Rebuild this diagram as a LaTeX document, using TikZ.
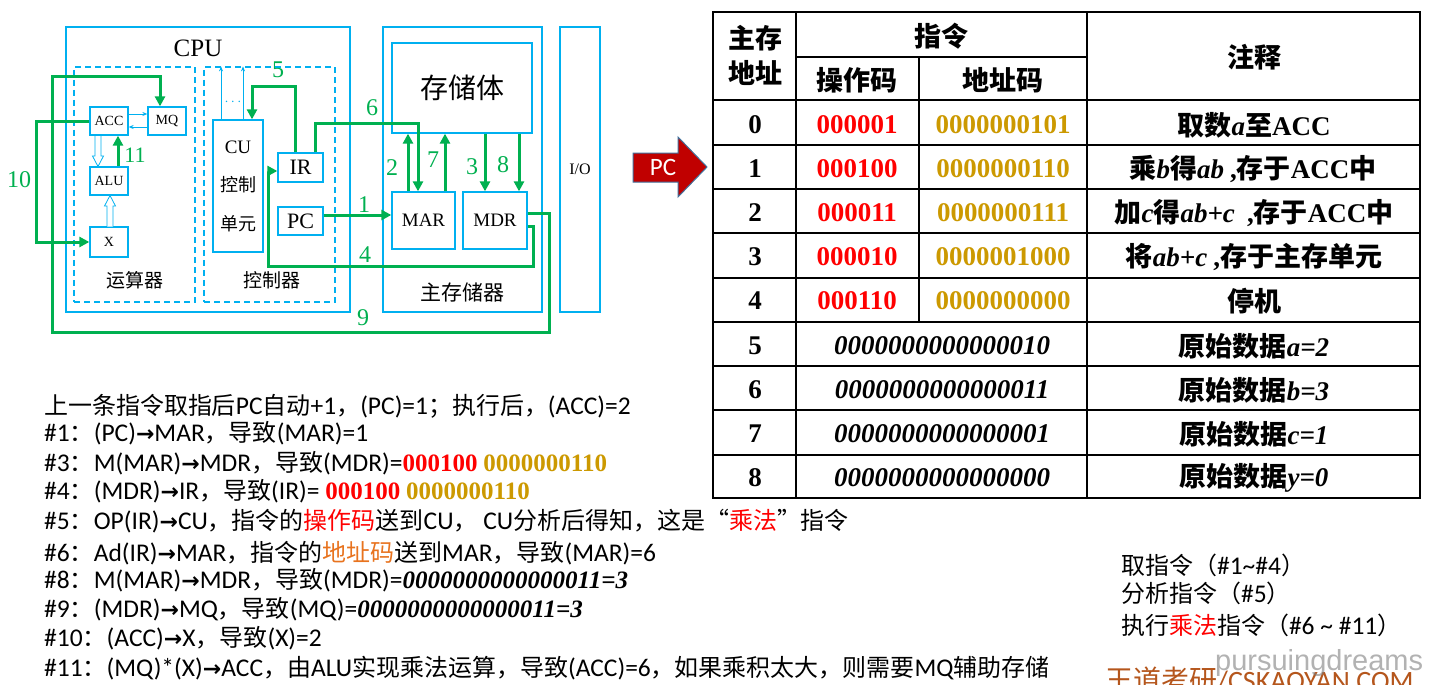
\documentclass[tikz,border=0pt]{standalone}
\usepackage{fontspec}
\setmainfont{Carlito}
\newfontfamily\zh{Noto Sans CJK SC}
\newfontfamily\zhb[Scale=0.94]{Noto Sans CJK SC}
\newfontfamily\tnr{Liberation Serif}
\newfontfamily\dv{DejaVu Sans}
\newfontfamily\lsans{Liberation Sans}
\usetikzlibrary{arrows.meta}
\definecolor{boxblue}{HTML}{00B0F0}
\definecolor{gr}{HTML}{00B050}
\definecolor{gold}{HTML}{CC9900}
\definecolor{orng}{HTML}{E8731E}
\definecolor{pcred}{HTML}{C00000}
\definecolor{pcedge}{HTML}{41719C}
\definecolor{wmark}{HTML}{B5561C}
\newcommand\fsz[1]{\fontsize{#1}{#1}\selectfont}
\newcommand\arr{{\dv\bfseries\fontsize{22}{22}\selectfont →}}
\newcommand\tbi{\tnr\bfseries\itshape}
\newcommand\tbb{\tnr\bfseries}
\tikzset{
  cpubox/.style={draw=boxblue, line width=2.6pt, inner sep=0},
  inbox/.style={draw=boxblue, line width=1.3pt, fill=white, inner sep=0},
  dashbox/.style={draw=boxblue, line width=1.2pt, dash pattern=on 6pt off 4pt, inner sep=0},
  garrow/.style={draw=gr, line width=3pt, -{Triangle[length=10pt,width=10pt]}},
  tarrow/.style={draw=boxblue, line width=0.8pt, -{Stealth[length=5pt,width=4pt]}},
  hollow/.style={draw=boxblue, line width=0.8pt, fill=white},
  glab/.style={text=gr, font=\tnr\fsz{24}, inner sep=0},
  btxt/.style={anchor=base west, inner sep=0, font=\fsz{25.5}},
  touter/.style={line width=2.8pt},
  tline/.style={line width=1.3pt},
  tcell/.style={inner sep=0, font=\zh\bfseries\fsz{27}},
  tnum/.style={inner sep=0, font=\tbb\fsz{27}},
}
\begin{document}
\begin{tikzpicture}[x=1pt,y=-1pt]
\useasboundingbox (0,0) rectangle (1438,685);
\fill[white] (0,0) rectangle (1438,685);

% ---------------- CPU ----------------
\node[cpubox, minimum width=284, minimum height=285] (cpu) at (208,169.5) {};
\node[font=\tnr\fsz{25}, inner sep=0] (cputxt) at (198,48) {CPU};
\node[dashbox, minimum width=121, minimum height=235] (alug) at (134.5,184.5) {};
\node[dashbox, minimum width=131, minimum height=235] (ctlg) at (269.5,184.5) {};
\node[font=\zh\fsz{19}, inner sep=0] (alutxt) at (135,280) {运算器};
\node[font=\zh\fsz{19}, inner sep=0] (ctltxt) at (272,280) {控制器};

\node[inbox, minimum width=38, minimum height=28, font=\tnr\fsz{14}] (ACC) at (109,121) {ACC};
\node[inbox, minimum width=38, minimum height=28, font=\tnr\fsz{14}] (MQ) at (167,121) {MQ};
\node[inbox, minimum width=38, minimum height=28, font=\tnr\fsz{14}] (ALU) at (109,181) {ALU};
\node[inbox, minimum width=38, minimum height=30, font=\tnr\fsz{14}] (X) at (109,242) {X};
\node[inbox, minimum width=50, minimum height=132, align=center, font=\fsz{19}] (CU) at (238,186)
  {{\tnr CU}\\[19pt]{\zh\fsz{18}控制}\\[20pt]{\zh\fsz{18}单元}};
\node[inbox, minimum width=45, minimum height=29, font=\tnr\fsz{22}] (IR) at (300.5,167.5) {IR};
\node[inbox, minimum width=45, minimum height=28, font=\tnr\fsz{22}] (PC) at (300.5,221) {PC};
\node[text=boxblue, inner sep=0, font=\fsz{14}] (dots) at (233,102) {$\cdots$};

% ---------------- memory / IO ----------------
\node[cpubox, minimum width=159, minimum height=285] (mem) at (462.5,169.5) {};
\node[inbox, minimum width=140, minimum height=90, font=\zh\fsz{28}] (body) at (462,88) {存储体};
\node[inbox, minimum width=63, minimum height=57, font=\tnr\fsz{19}] (MAR) at (423.5,220.5) {MAR};
\node[inbox, minimum width=64, minimum height=57, font=\tnr\fsz{19}] (MDR) at (495,220.5) {MDR};
\node[font=\zh\fsz{21}, inner sep=0] (memtxt) at (462,292) {主存储器};
\node[cpubox, minimum width=40, minimum height=285, font=\tnr\fsz{16}] (IO) at (580,169.5) {I/O};

% thin internal arrows
\coordinate (q1) at ([yshift=7pt]ACC.east);
\draw[tarrow] (q1) -- (q1 -| MQ.west);
\coordinate (q2) at ([yshift=-6pt]MQ.west);
\draw[tarrow] (q2) -- (q2 -| ACC.east);
\coordinate (u1) at ([xshift=-17pt]CU.north);
\draw[tarrow] (u1) -- (u1 |- ctlg.north);
\coordinate (u2) at ([xshift=5pt]CU.north);
\draw[tarrow] (u2) -- (u2 |- ctlg.north);

% hollow arrows
\draw[hollow] (95,136) -- (95,156) -- (92.5,156) -- (98,166.5) -- (103.5,156) -- (101,156) -- (101,136);
\draw[hollow] (107,226.5) -- (107,206) -- (104.5,206) -- (110,195.5) -- (115.5,206) -- (113,206) -- (113,226.5);

% green data paths
\coordinate (a11) at ([xshift=9pt]ALU.north);
\draw[garrow] (a11) -- (a11 |- ACC.south);
\draw[garrow] (ACC.west) -- ++(-53,0) |- (X.west);
\coordinate (c9a) at (549,332);
\coordinate (c9b) at (52,77);
\coordinate (m9) at ([xshift=-7pt]MQ.north);
\draw[garrow] ([yshift=7.5pt]MDR.east) -| (c9a) -| (c9b) -| (m9);
\coordinate (c4a) at (533,266);
\coordinate (c4b) at (268,171);
\draw[garrow] ([yshift=-5.5pt]MDR.east) -| (c4a) -| (c4b) -- ([yshift=-3.5pt]IR.west);
\draw[garrow] ([xshift=-5.5pt]IR.north) -- ++(0,-66) -| ([xshift=14pt]CU.north);
\draw[garrow] ([xshift=14.5pt]IR.north) -- ++(0,-29) -| ([xshift=-5.5pt]MAR.north);
\coordinate (p1) at ([yshift=6pt]PC.east);
\draw[garrow] (p1) -- (p1 -| MAR.west);
\coordinate (a2) at ([xshift=-15.5pt]MAR.north);
\draw[garrow] (a2) -- (a2 |- body.south);
\coordinate (a7) at ([xshift=21.5pt]MAR.north);
\draw[garrow] (a7) -- (a7 |- body.south);
\coordinate (a3) at ([xshift=-10pt]MDR.north);
\draw[garrow] (a3 |- body.south) -- (a3);
\coordinate (a8) at ([xshift=24pt]MDR.north);
\draw[garrow] (a8 |- body.south) -- (a8);

% green labels
\node[glab] (l1) at (364,205) {1};
\node[glab] (l2) at (392,168) {2};
\node[glab] (l3) at (472,167) {3};
\node[glab] (l4) at (365,255) {4};
\node[glab] (l5) at (278,70) {5};
\node[glab] (l6) at (372,108) {6};
\node[glab] (l7) at (433,160) {7};
\node[glab] (l8) at (503,165) {8};
\node[glab] (l9) at (363,318) {9};
\node[glab] (l10) at (19,180) {10};
\node[glab, font=\tnr\fsz{22}] (l11) at (135,155) {11};

% ---------------- PC block arrow ----------------
\draw[fill=pcred, draw=pcedge, line width=1pt] (633,153) -- (678,153) -- (678,137) -- (707,167) -- (678,197) -- (678,182) -- (633,182) -- cycle;
\node[text=white, font=\fsz{25}, inner sep=0] (pclab) at (663,167) {PC};

% ---------------- table ----------------
\draw[touter] (713,12) rectangle (1420,498);
\draw[tline] (796,12) -- (796,498);
\draw[tline] (1087,12) -- (1087,498);
\draw[tline] (919,57) -- (919,322);
\draw[tline] (796,57) -- (1087,57);
\foreach \yy in {100,145,189,233,278,322,366,410,455}
  \draw[tline] (713,\yy) -- (1420,\yy);

\node[tcell, align=center] (h0) at (755,55) {主存\\[8pt]地址};
\node[tcell] (h1) at (941,36) {指令};
\node[tcell] (h2) at (857,80) {操作码};
\node[tcell] (h3) at (1003,80) {地址码};
\node[tcell] (h4) at (1254,57) {注释};

\node[tnum] (n0) at (755,125) {0};
\node[tnum] (n1) at (755,169) {1};
\node[tnum] (n2) at (755,213) {2};
\node[tnum] (n3) at (755,257) {3};
\node[tnum] (n4) at (755,301) {4};
\node[tnum] (n5) at (755,346) {5};
\node[tnum] (n6) at (755,390) {6};
\node[tnum] (n7) at (755,434) {7};
\node[tnum] (n8) at (755,478) {8};

\node[tnum, text=red] (o0) at (857,125) {000001};
\node[tnum, text=red] (o1) at (857,169) {000100};
\node[tnum, text=red] (o2) at (857,213) {000011};
\node[tnum, text=red] (o3) at (857,257) {000010};
\node[tnum, text=red] (o4) at (857,301) {000110};
\node[tnum, text=gold] (d0) at (1003,125) {0000000101};
\node[tnum, text=gold] (d1) at (1003,169) {0000000110};
\node[tnum, text=gold] (d2) at (1003,213) {0000000111};
\node[tnum, text=gold] (d3) at (1003,257) {0000001000};
\node[tnum, text=gold] (d4) at (1003,301) {0000000000};
\node[tnum, font=\tbi\fsz{27}] (d5) at (942,346) {0000000000000010};
\node[tnum, font=\tbi\fsz{27}] (d6) at (942,390) {0000000000000011};
\node[tnum, font=\tbi\fsz{27}] (d7) at (942,434) {0000000000000001};
\node[tnum, font=\tbi\fsz{27}] (d8) at (942,478) {0000000000000000};

\node[tcell] (c0) at (1254,125) {取数{\tbi a}至{\tbb ACC}};
\node[tcell] (c1) at (1253,169) {乘{\tbi b}得{\tbi ab} {\tbb ,}存于{\tbb ACC}中};
\node[tcell] (c2) at (1254,213) {加{\tbi c}得{\tbi ab+c}\ \ {\tbb ,}存于{\tbb ACC}中};
\node[tcell] (c3) at (1254,257) {将{\tbi ab+c} {\tbb ,}存于主存单元};
\node[tcell] (c4) at (1254,301) {停机};
\node[tcell] (c5) at (1254,346) {原始数据{\tbi a=2}};
\node[tcell] (c6) at (1254,390) {原始数据{\tbi b=3}};
\node[tcell] (c7) at (1254,434) {原始数据{\tbi c=1}};
\node[tcell] (c8) at (1254,478) {原始数据{\tbi y=0}};

% ---------------- explanation text ----------------
\node[btxt] (t1) at (44,414) {{\zhb 上一条指令取指后}PC{\zhb 自动}+1{\zhb ，}(PC)=1{\zhb ；执行后，}(ACC)=2};
\node[btxt] (t2) at (44,441) {\#1{\zhb ：}(PC)\arr MAR{\zhb ，导致}(MAR)=1};
\node[btxt] (t3) at (44,471) {\#3{\zhb ：}M(MAR)\arr MDR{\zhb ，导致}(MDR)={\tbb\fsz{25}\color{red}000100} {\tbb\fsz{25}\color{gold}0000000110}};
\node[btxt] (t4) at (44,499) {\#4{\zhb ：}(MDR)\arr IR{\zhb ，导致}(IR)= {\tbb\fsz{25}\color{red}000100} {\tbb\fsz{25}\color{gold}0000000110}};
\node[btxt] (t5) at (44,529) {\#5{\zhb ：}OP(IR)\arr CU{\zhb ，指令的{\color{red}操作码}送到}CU{\zhb ，} CU{\zhb 分析后得知，这是“{\color{red}乘法}”指令}};
\node[btxt] (t6) at (44,561) {\#6{\zhb ：}Ad(IR)\arr MAR{\zhb ，指令的{\color{orng}地址码}送到}MAR{\zhb ，导致}(MAR)=6};
\node[btxt] (t7) at (44,588) {\#8{\zhb ：}M(MAR)\arr MDR{\zhb ，导致}(MDR)={\tbi\fsz{25}0000000000000011=3}};
\node[btxt] (t8) at (44,617) {\#9{\zhb ：}(MDR)\arr MQ{\zhb ，导致}(MQ)={\tbi\fsz{25}0000000000000011=3}};
\node[btxt] (t9) at (44,646) {\#10{\zhb ：}(ACC)\arr X{\zhb ，导致}(X)=2};
\node[btxt] (t10) at (44,676) {\#11{\zhb ：}(MQ)*(X)\arr ACC{\zhb ，由}ALU{\zhb 实现乘法运算，导致}(ACC)=6{\zhb ，如果乘积太大，则需要}MQ{\zhb 辅助存储}};

\node[btxt] (s1) at (1121,574) {{\zhb 取指令（}\#1\textasciitilde\#4{\zhb ）}};
\node[btxt] (s2) at (1121,602) {{\zhb 分析指令（}\#5{\zhb ）}};
\node[btxt] (s3) at (1121,634) {{\zhb 执行{\color{red}乘法}指令（}\#6 \textasciitilde\ \#11{\zhb ）}};

% watermarks
\node[anchor=base west, inner sep=0, text=wmark, font=\fsz{28}] (wm) at (1105,690) {{\zh 王道考研}/CSKAOYAN.COM};
\node[anchor=base west, inner sep=0, text=gray, opacity=0.6, font=\lsans\fsz{29}] (pd) at (1215,670) {pursuingdreams};
\end{tikzpicture}
\end{document}
